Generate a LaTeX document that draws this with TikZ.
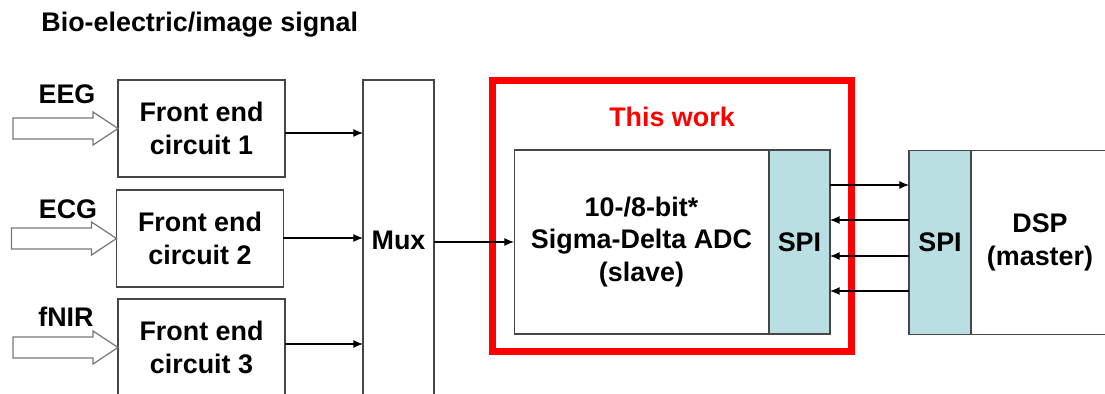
\documentclass[tikz,border=0pt]{standalone}
\usepackage{fontspec}
\setmainfont{Liberation Sans}
\usetikzlibrary{arrows.meta,positioning}
\definecolor{spiblue}{RGB}{185,223,227}
\definecolor{linegray}{RGB}{70,70,70}
\definecolor{hollowgray}{RGB}{120,120,120}
\begin{document}
\begin{tikzpicture}[x=0.02cm, y=-0.02cm, line width=0.6pt,
  font=\fontsize{15.3}{18.5}\selectfont\bfseries,
  >={Latex[length=5.5pt,width=4.5pt]},
  block/.style = {draw=linegray, fill=white, align=center, inner sep=0pt, outer sep=0pt},
  spi/.style = {block, fill=spiblue, minimum width=1.22cm, minimum height=3.68cm},
  inarrow/.style = {draw=hollowgray, fill=white, line width=0.7pt, line join=miter}]
  \fill[white] (0,0) rectangle (1105,394);
  \path[use as bounding box, clip] (0,0) rectangle (1105,394);

  \node[anchor=base west] (title) at (35,32) {Bio-electric/image signal};

  % front end circuits and their inputs
  \node[block, minimum width=3.34cm, minimum height=1.94cm] (fe1) at (201.5,128.5) {Front end\\circuit 1};
  \node[block, minimum width=3.34cm, minimum height=1.94cm] (fe2) at (200,238.5) {Front end\\circuit 2};
  \node[block, minimum width=3.34cm, minimum height=1.94cm] (fe3) at (201.5,347.5) {Front end\\circuit 3};
  \node (eeg) at (67,94) {EEG};
  \node (ecg) at (68,209) {ECG};
  \node (fnir) at (66,317) {fNIR};
  \foreach \i in {1,2,3}
    \draw[inarrow] (fe\i.west) -- ++(-25,-16.5) -- ++(0,6) -- ++(-80,0) -- ++(0,21)
      -- ++(80,0) -- ++(0,6) -- cycle;

  \node[block, minimum width=1.42cm, minimum height=6.4cm] (mux) at (398.5,240) {Mux};

  % the ADC chip
  \node[draw=red, line width=4pt, minimum width=7.2cm, minimum height=5.44cm] (work) at (672,216) {};
  \node[text=red] (worklabel) at (672,117) {This work};
  \node[block, minimum width=5.1cm, minimum height=3.68cm] (adc) at (641.5,242) {10-/8-bit*\\Sigma-Delta ADC\\(slave)};
  \node[spi, right=0pt of adc] (spi1) {SPI};

  % DSP side
  \node[spi, minimum width=1.24cm] (spi2) at (940,242.5) {SPI};
  \node[block, minimum width=2.76cm, minimum height=3.68cm, right=0pt of spi2] (dsp) {DSP\\(master)};

  \foreach \i/\y in {1/133,2/238,3/344}
    \draw[->] (fe\i.east |- 0,\y) -- (mux.west |- 0,\y);
  \draw[->] (mux.east |- adc.west) -- (adc.west);
  \draw[->] (spi1.east |- 0,185) -- (spi2.west |- 0,185);
  \foreach \y in {220,256,291}
    \draw[->] (spi2.west |- 0,\y) -- (spi1.east |- 0,\y);
\end{tikzpicture}
\end{document}
